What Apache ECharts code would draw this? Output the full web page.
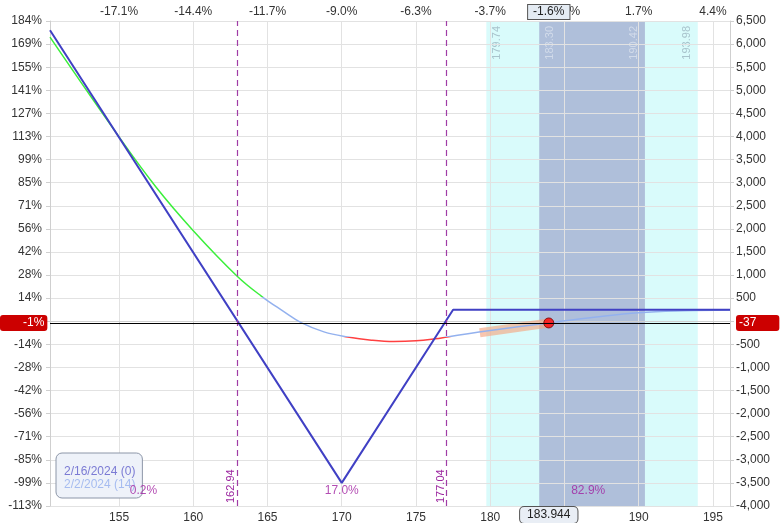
<!DOCTYPE html>
<html>
<head>
<meta charset="utf-8">
<script src="https://cdn.jsdelivr.net/npm/echarts@6/dist/echarts.min.js"></script>
<style>
  html, body { margin: 0; padding: 0; background: #fff; }
  #main { width: 780px; height: 523px; }
</style>
</head>
<body>
<div id="main"></div>
<script>
// price axis ticks and the % change labels on top
var xTicks = [155, 160, 165, 170, 175, 180, 185, 190, 195];
var topPctLabels = ['-17.1%', '-14.4%', '-11.7%', '-9.0%', '-6.3%', '-3.7%', '-1.0%', '1.7%', '4.4%'];

// P&L ticks (right) and return % (left)
var yTicks = [-4000, -3500, -3000, -2500, -2000, -1500, -1000, -500, 0, 500, 1000, 1500, 2000, 2500, 3000, 3500, 4000, 4500, 5000, 5500, 6000, 6500];
var leftPctLabels = ['-113%', '-99%', '-85%', '-71%', '-56%', '-42%', '-28%', '-14%', '', '14%', '28%', '42%', '56%', '71%', '85%', '99%', '113%', '127%', '141%', '155%', '169%', '184%'];

// expiration (2/16/2024) P&L
var expName = '2/16/2024 (0)';
var expPrice = [150.35, 170, 177.5, 196.15];
var expPnl = [6300, -3500, 250, 250];

// today (2/2/2024, 14 DTE) P&L
var t0Name = '2/2/2024 (14)';
var t0Price = [150.35, 155, 157.5, 160, 162.94, 164.6, 166, 167.3, 168.8, 170.4, 172, 173.5, 175, 176.3, 177.1, 178.5, 180, 182, 183.944, 187, 190, 193, 196.15];
var t0Pnl = [6150, 3990, 2900, 1960, 980, 540, 230, -37, -230, -340, -410, -440, -425, -380, -340, -270, -200, -115, -37, 85, 185, 228, 245];

// current price / P&L
var curPrice = 183.944;
var curPnl = -37;
var curPct = '-1%';
var curMovePct = '-1.6%';

// recent path (orange)
var pathPrice = [179.3, 183.944];
var pathPnl = [-250, -37];

// breakevens and probabilities
var breakevens = [162.94, 177.04];
var probX = [156.65, 170.0, 186.6];
var probY = [-3670, -3670, -3670];
var probLabels = ['0.2%', '17.0%', '82.9%'];

// expected move bands
var outerBand = [179.74, 193.98];
var innerBand = [183.30, 190.42];

var FONT = 'Liberation Sans, Arial, sans-serif';

function zip(a, b) {
  var out = [];
  for (var i = 0; i < a.length; i++) out.push([a[i], b[i]]);
  return out;
}
function commas(v) {
  return String(v).replace(/\B(?=(\d{3})+(?!\d))/g, ',');
}

var chart = echarts.init(document.getElementById('main'));

var bandLabel = function (pos, color) {
  return {
    show: true, position: pos, color: color, fontSize: 11, fontFamily: FONT,
    formatter: function (p) { return p.value.toFixed(2); }
  };
};

var option = {
  animation: false,
  backgroundColor: '#fff',
  grid: { left: 50, right: 50, top: 21, bottom: 17, outerBoundsMode: 'none' },
  legend: {
    left: 56, top: 453, orient: 'vertical', selectedMode: false,
    data: [
      { name: expName, textStyle: { color: '#7b7bd4' } },
      { name: t0Name, textStyle: { color: '#a6bcf0' } }
    ],
    icon: 'rect', itemWidth: 0, itemHeight: 0, itemGap: 1,
    backgroundColor: '#eef2f9', borderColor: '#8c96a8', borderWidth: 1, borderRadius: 6,
    padding: [13, 7, 7, 3],
    textStyle: { fontSize: 12, fontFamily: FONT }
  },
  visualMap: {
    show: false, type: 'piecewise', seriesIndex: 2, dimension: 1,
    pieces: [
      { gt: 530, color: '#3bef3b' },
      { lt: -335, color: '#ff4040' },
      { gte: -335, lte: 530, color: '#93b1ee' }
    ]
  },
  xAxis: [
    {
      type: 'value', position: 'bottom', min: 150.35, max: 196.15, z: 1,
      axisLine: { show: true, lineStyle: { color: '#cfcfcf' } },
      axisTick: { show: true, length: 4, customValues: xTicks, lineStyle: { color: '#cfcfcf' } },
      axisLabel: { customValues: xTicks, color: '#333', fontSize: 12, fontFamily: FONT, margin: 6 },
      splitLine: { show: true, lineStyle: { color: '#e2e2e2' } },
      axisPointer: {
        show: true, value: curPrice, status: 'show', triggerTooltip: false,
        lineStyle: { opacity: 0 },
        label: {
          show: true, margin: 5, color: '#222', fontSize: 12, fontFamily: FONT,
          backgroundColor: '#e9eef5', borderColor: '#555', borderWidth: 1, borderRadius: 4,
          padding: [2, 7],
          formatter: function (p) { return Number(p.value).toFixed(3); }
        }
      }
    },
    {
      type: 'value', position: 'top', min: 150.35, max: 196.15, z: 1,
      axisLine: { show: false },
      axisTick: { show: false },
      axisLabel: {
        customValues: xTicks, color: '#333', fontSize: 12, fontFamily: FONT, margin: 3,
        formatter: function (v) { return topPctLabels[xTicks.indexOf(v)]; }
      },
      splitLine: { show: false },
      axisPointer: {
        show: true, value: curPrice, status: 'show', triggerTooltip: false,
        lineStyle: { opacity: 0 },
        label: {
          show: true, margin: 2, color: '#222', fontSize: 12, fontFamily: FONT,
          backgroundColor: '#e4ebf3', borderColor: '#555', borderWidth: 1, borderRadius: 0,
          padding: [1, 5],
          formatter: function () { return curMovePct; }
        }
      }
    }
  ],
  yAxis: [
    {
      type: 'value', position: 'left', min: -4000, max: 6500, interval: 500, z: 1,
      axisLine: { show: true, lineStyle: { color: '#cfcfcf' } },
      axisTick: { show: true, length: 4, lineStyle: { color: '#cfcfcf' } },
      axisLabel: {
        color: '#333', fontSize: 12, fontFamily: FONT, margin: 8,
        formatter: function (v) { return leftPctLabels[yTicks.indexOf(v)]; }
      },
      splitLine: { show: true, lineStyle: { color: '#e2e2e2' } },
      axisPointer: {
        show: true, value: curPnl, status: 'show', triggerTooltip: false,
        lineStyle: { color: '#000', width: 1, type: 'solid' },
        label: {
          show: true, margin: 5, color: '#fff', fontSize: 12, fontFamily: FONT,
          backgroundColor: '#cc0000', padding: [2, 3, 2, 23],
          formatter: function () { return curPct; }
        }
      }
    },
    {
      type: 'value', position: 'right', min: -4000, max: 6500, interval: 500, z: 1,
      axisLine: { show: true, lineStyle: { color: '#cfcfcf' } },
      axisTick: { show: true, length: 4, lineStyle: { color: '#cfcfcf' } },
      axisLabel: {
        color: '#333', fontSize: 12, fontFamily: FONT, margin: 6,
        formatter: function (v) { return v === 0 ? '' : commas(v); }
      },
      splitLine: { show: false },
      axisPointer: {
        show: true, value: curPnl, status: 'show', triggerTooltip: false,
        lineStyle: { opacity: 0 },
        label: {
          show: true, margin: 6, color: '#fff', fontSize: 12, fontFamily: FONT,
          backgroundColor: '#cc0000', padding: [2, 23, 2, 3],
          formatter: function () { return String(curPnl); }
        }
      }
    }
  ],
  series: [
    {
      name: 'bands', type: 'line', yAxisIndex: 1, data: [], z: 0, silent: true,
      markArea: {
        silent: true, z: 0,
        data: [
          [{ xAxis: outerBand[0], itemStyle: { color: '#d9fbfb' } }, { xAxis: outerBand[1] }],
          [{ xAxis: innerBand[0], itemStyle: { color: '#afbfda' } }, { xAxis: innerBand[1] }]
        ]
      },
      markLine: {
        silent: true, symbol: 'none', z: 0,
        lineStyle: { color: 'rgba(0,0,0,0)', width: 0 },
        data: [
          { xAxis: outerBand[0], label: bandLabel('insideEndBottom', '#a8c3cc') },
          { xAxis: innerBand[0], label: bandLabel('insideEndBottom', '#d2dbea') },
          { xAxis: innerBand[1], label: bandLabel('insideEndTop', '#d2dbea') },
          { xAxis: outerBand[1], label: bandLabel('insideEndTop', '#a8c3cc') }
        ]
      }
    },
    {
      name: expName, type: 'line', yAxisIndex: 1, z: 4,
      data: zip(expPrice, expPnl), showSymbol: false,
      lineStyle: { color: '#4040c4', width: 2 },
      itemStyle: { color: '#7b7bd4' },
      markLine: {
        silent: true, symbol: 'none',
        lineStyle: { color: '#a03ca6', width: 1.2, type: [6, 4] },
        label: {
          show: true, position: 'insideStartTop', distance: [3, 0], color: '#9c27a0', fontSize: 11, fontFamily: FONT,
          formatter: function (p) { return p.value.toFixed(2); }
        },
        data: [{ xAxis: breakevens[0] }, { xAxis: breakevens[1] }]
      }
    },
    {
      name: t0Name, type: 'line', yAxisIndex: 1, z: 3,
      data: zip(t0Price, t0Pnl), showSymbol: false, smooth: 0.4,
      lineStyle: { width: 1.5 },
      itemStyle: { color: '#a6bcf0' }
    },
    {
      name: 'path', type: 'line', yAxisIndex: 1, z: 2,
      data: zip(pathPrice, pathPnl), showSymbol: false,
      lineStyle: { color: 'rgba(245,168,130,0.65)', width: 9 }
    },
    {
      name: 'now', type: 'scatter', yAxisIndex: 1, z: 6,
      data: [[curPrice, curPnl]], symbolSize: 10,
      itemStyle: { color: '#ff0000', borderColor: '#700000', borderWidth: 1 }
    },
    {
      name: 'prob', type: 'scatter', yAxisIndex: 1, z: 5,
      data: zip(probX, probY), symbolSize: 0,
      label: {
        show: true, position: 'inside', color: '#a020a0', fontSize: 12, fontFamily: FONT,
        formatter: function (p) { return probLabels[p.dataIndex]; }
      }
    }
  ]
};

chart.setOption(option);
</script>
</body>
</html>
